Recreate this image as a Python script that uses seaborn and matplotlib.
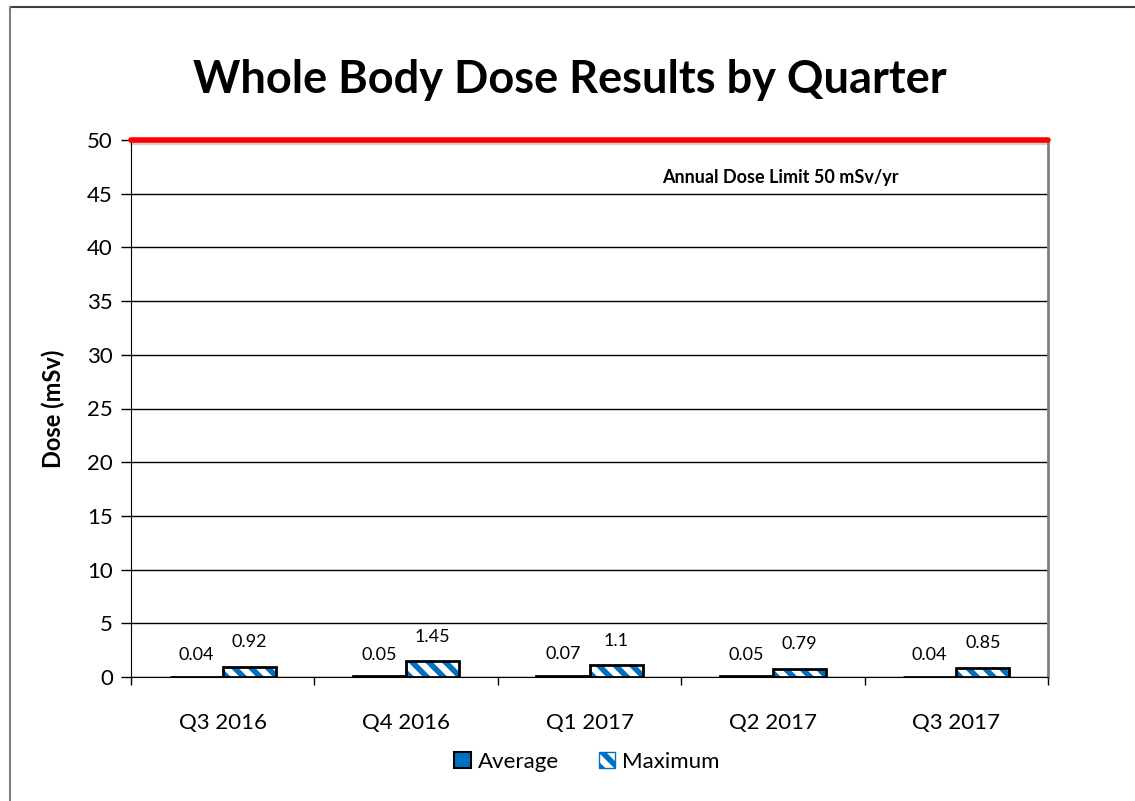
import pandas as pd
import seaborn as sns
import matplotlib.pyplot as plt
from matplotlib.patches import Patch, Rectangle
from matplotlib.lines import Line2D

# Data
quarters = ['Q3 2016', 'Q4 2016', 'Q1 2017', 'Q2 2017', 'Q3 2017']
average = [0.04, 0.05, 0.07, 0.05, 0.04]
maximum = [0.92, 1.45, 1.1, 0.79, 0.85]
dose_limit = 50

data = pd.DataFrame({
    'quarter': quarters * 2,
    'dose': average + maximum,
    'series': ['Average'] * len(quarters) + ['Maximum'] * len(quarters),
})

blue = '#0070C0'
hatch = '\\\\'

sns.set_style('white')
plt.rcParams['font.family'] = ['Lato', 'DejaVu Sans']
plt.rcParams['hatch.linewidth'] = 4
plt.rcParams['text.color'] = 'black'
plt.rcParams['axes.labelcolor'] = 'black'
plt.rcParams['xtick.color'] = 'black'
plt.rcParams['ytick.color'] = 'black'

fig = plt.figure(figsize=(11.35, 8.01), dpi=100)
ax = fig.add_axes([131 / 1135, 124 / 801, 917 / 1135, 537 / 801])

sns.barplot(data=data, x='quarter', y='dose', hue='series', palette=[blue, 'white'],
            width=0.58, gap=0, legend=False, ax=ax)

# Average bars: solid blue with black outline
for bar in ax.containers[0]:
    bar.set_edgecolor('black')
    bar.set_linewidth(2)

# Maximum bars: blue diagonal hatch with black outline drawn on top
for bar in ax.containers[1]:
    bar.set_facecolor('white')
    bar.set_edgecolor(blue)
    bar.set_hatch(hatch)
    bar.set_linewidth(0)
    ax.add_patch(Rectangle(bar.get_xy(), bar.get_width(), bar.get_height(),
                           fill=False, edgecolor='black', linewidth=2, zorder=bar.get_zorder() + 0.1))

ax.bar_label(ax.containers[0], labels=[f'{v:g}' for v in average], padding=10, fontsize=13)
ax.bar_label(ax.containers[1], labels=[f'{v:g}' for v in maximum], padding=12, fontsize=13)

ax.set_ylim(0, 50)
ax.set_xlim(-0.5, len(quarters) - 0.5)
ax.set_yticks(range(0, 51, 5))
ax.yaxis.grid(True, color='black', linewidth=1)
ax.set_axisbelow(True)

# limit line
ax.axhline(dose_limit - 0.25, color='#d0d0d0', linewidth=3, zorder=2, clip_on=False)
ax.axhline(dose_limit, color='#ff0000', linewidth=4, zorder=3, clip_on=False)
ax.text(3.04, 46.5, 'Annual Dose Limit 50 mSv/yr', fontsize=13, fontweight='bold',
        ha='center', va='center')

ax.spines['top'].set_visible(False)
ax.spines['left'].set_color('black')
ax.spines['bottom'].set_color('black')
ax.spines['right'].set_color('#808080')
ax.spines['right'].set_linewidth(2)

ax.tick_params(axis='y', which='major', left=True, length=7, width=1, color='black', pad=6, labelsize=16)
ax.tick_params(axis='x', which='major', length=0, pad=26, labelsize=16)
ax.set_xticks([i - 0.5 for i in range(len(quarters) + 1)], minor=True)
ax.tick_params(axis='x', which='minor', bottom=True, length=6, width=1, color='black')

ax.set_xlabel('')
ax.set_ylabel('Dose (mSv)', fontsize=17, fontweight='bold', labelpad=16)

fig.text(0.502, 1 - 80 / 801, 'Whole Body Dose Results by Quarter', fontsize=32.5,
         fontweight='bold', ha='center', va='center')

handles = [Patch(facecolor=blue, edgecolor='black', linewidth=1.5, label='Average'),
           Patch(facecolor='white', edgecolor=blue, hatch=hatch, label='Maximum')]
fig.legend(handles=handles, loc='center', bbox_to_anchor=(587 / 1135, 1 - 762 / 801),
           ncol=2, frameon=False, fontsize=16, handlelength=0.75, handleheight=0.75,
           handletextpad=0.3, columnspacing=1.8)

# outer chart border (cut off on the right and bottom)
fig.add_artist(Line2D([10 / 1135, 1], [1 - 7 / 801, 1 - 7 / 801], color='#404040', linewidth=1.5))
fig.add_artist(Line2D([10 / 1135, 10 / 1135], [0, 1 - 7 / 801], color='#808080', linewidth=1.5))

plt.savefig('out.png', dpi=100)
